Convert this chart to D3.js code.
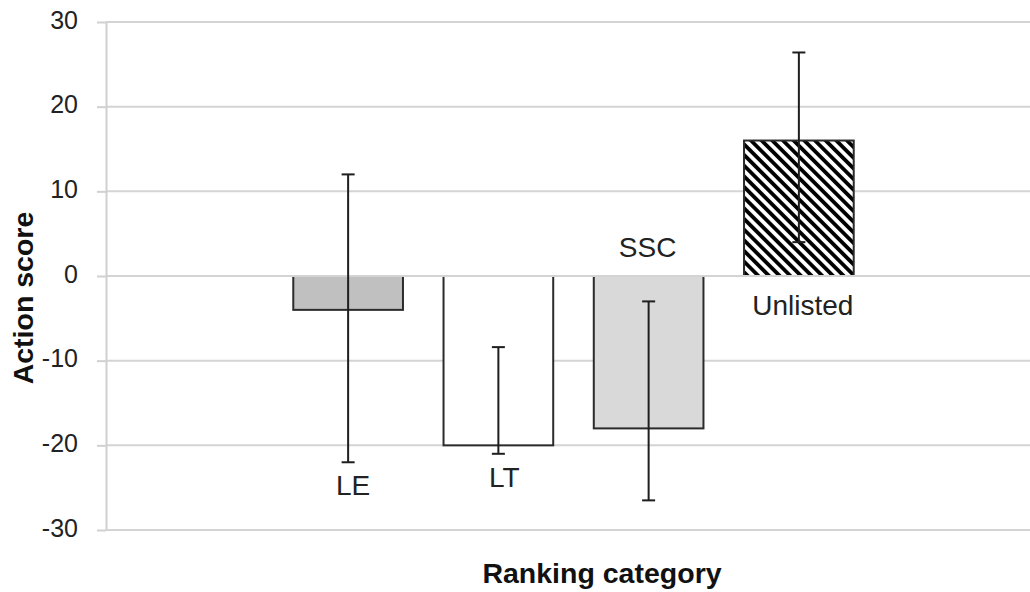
<!DOCTYPE html>
<html>
<head>
<meta charset="utf-8">
<script src="https://cdn.jsdelivr.net/npm/d3@7"></script>
<style>
  html, body { margin: 0; padding: 0; background: #fff; }
  svg { display: block; }
  text { font-family: "Liberation Sans", Arial, sans-serif; }
</style>
</head>
<body>
<svg id="chart" width="1030" height="592"></svg>
<script>
// ---- data ----
const categories = ["LE", "LT", "SSC", "Unlisted"];
const values     = [-4, -20, -18, 16];
const errLow     = [-22, -21, -26.5, 4];
const errHigh    = [12, -8.4, -3, 26.4];
const yTicks     = [-30, -20, -10, 0, 10, 20, 30];
const yTickLabels = ["-30", "-20", "-10", "0", "10", "20", "30"];
const yDomain    = [-30, 30];
const yTitle     = "Action score";
const xTitle     = "Ranking category";

// ---- layout / style (kept apart from the data) ----
const labelAt  = [-25.9, -24.9, 2.3, -4.6];   // label baselines, in axis units
const labelDx  = [5, 6, -1, 4];
const fills    = ["#c0c0c0", "#ffffff", "#d9d9d9", "url(#hatch)"];
const W = 1030, H = 592;
const axisX = 106;

const svg = d3.select("#chart");

// hatch pattern
const defs = svg.append("defs");
const pat = defs.append("pattern")
  .attr("id", "hatch")
  .attr("patternUnits", "userSpaceOnUse")
  .attr("width", 7.54).attr("height", 10)
  .attr("patternTransform", "rotate(-45)");
pat.append("rect").attr("width", 7.54).attr("height", 10).attr("fill", "#fff");
pat.append("rect").attr("x", 0).attr("width", 3.8).attr("height", 10).attr("fill", "#000");

const y = d3.scaleLinear().domain(yDomain).range([530, 22]);
const x = d3.scaleBand().domain(categories).range([273, 874])
  .paddingInner(0.27).paddingOuter(0.135);

// gridlines
svg.append("g").selectAll("line")
  .data(yTicks.filter(t => t !== 0))
  .join("line")
  .attr("x1", axisX).attr("x2", W)
  .attr("y1", d => y(d)).attr("y2", d => y(d))
  .attr("stroke", "#d4d4d4").attr("stroke-width", 2);

// bars
const data = categories.map((c, i) => ({ c, v: values[i], lo: errLow[i], hi: errHigh[i], i }));
svg.append("g").selectAll("rect")
  .data(data)
  .join("rect")
  .attr("x", d => x(d.c))
  .attr("width", x.bandwidth())
  .attr("y", d => y(Math.max(0, d.v)))
  .attr("height", d => Math.abs(y(d.v) - y(0)))
  .attr("fill", d => fills[d.i])
  .attr("stroke", "#2b2b2b")
  .attr("stroke-width", 2);

// zero line over the bars
svg.append("line")
  .attr("x1", axisX).attr("x2", W)
  .attr("y1", y(0)).attr("y2", y(0))
  .attr("stroke", "#d4d4d4").attr("stroke-width", 2);

// y axis
const yAxis = d3.axisLeft(y).tickValues(yTicks)
  .tickFormat((d, i) => yTickLabels[i])
  .tickSize(9).tickPadding(19).tickSizeOuter(0);
const gy = svg.append("g").attr("transform", `translate(${axisX},0)`).call(yAxis);
gy.select(".domain").attr("stroke", "#d0d0d0").attr("stroke-width", 2);
gy.selectAll(".tick line").attr("stroke", "#d0d0d0").attr("stroke-width", 2);
gy.selectAll(".tick text")
  .attr("font-size", 25)
  .attr("fill", "#222")
  .attr("dy", "0.25em")
  .style("font-family", "'Liberation Sans', Arial, sans-serif");

// error bars
const eb = svg.append("g").attr("stroke", "#1e1e1e").attr("stroke-width", 2);
const cx = d => x(d.c) + x.bandwidth() / 2;
eb.selectAll("line.v").data(data).join("line").attr("class", "v")
  .attr("x1", cx).attr("x2", cx)
  .attr("y1", d => y(d.hi)).attr("y2", d => y(d.lo));
eb.selectAll("line.hi").data(data).join("line").attr("class", "hi")
  .attr("x1", d => cx(d) - 6.5).attr("x2", d => cx(d) + 6.5)
  .attr("y1", d => y(d.hi)).attr("y2", d => y(d.hi));
eb.selectAll("line.lo").data(data).join("line").attr("class", "lo")
  .attr("x1", d => cx(d) - 6.5).attr("x2", d => cx(d) + 6.5)
  .attr("y1", d => y(d.lo)).attr("y2", d => y(d.lo));

// category labels
svg.append("g").selectAll("text")
  .data(data)
  .join("text")
  .attr("x", d => cx(d) + labelDx[d.i])
  .attr("y", d => y(labelAt[d.i]))
  .attr("text-anchor", "middle")
  .attr("font-size", 28)
  .attr("fill", "#222")
  .text(d => d.c);

// axis titles
svg.append("text")
  .attr("transform", "translate(33,298) rotate(-90)")
  .attr("text-anchor", "middle")
  .attr("font-size", 28.5).attr("font-weight", "bold")
  .attr("fill", "#111")
  .text(yTitle);

svg.append("text")
  .attr("x", 602).attr("y", 583)
  .attr("text-anchor", "middle")
  .attr("font-size", 28.5).attr("font-weight", "bold")
  .attr("fill", "#111")
  .text(xTitle);
</script>
</body>
</html>
